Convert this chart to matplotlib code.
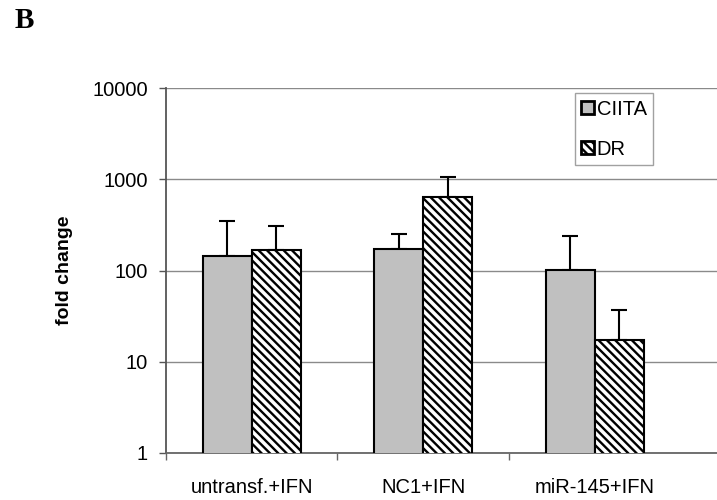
import numpy as np
import matplotlib
matplotlib.use("Agg")
import matplotlib.pyplot as plt

# data
groups = ["untransf.+IFN", "NC1+IFN", "miR-145+IFN"]
ciita = [144, 172, 101]
ciita_err = [207, 79, 140]
dr = [168, 634, 17.3]
dr_err = [139, 416, 19.6]
yticks = [1, 10, 100, 1000, 10000]

plt.rcParams['font.family'] = ['Liberation Sans', 'DejaVu Sans']
plt.rcParams['hatch.linewidth'] = 1.7
plt.rcParams['hatch.color'] = 'black'

fig = plt.figure(figsize=(7.17, 5.0), dpi=100)
ax = fig.add_axes([0.2315, 0.094, 0.7685, 0.73])

x = np.arange(len(groups))
w = 0.285

ax.bar(x - w / 2, ciita, w, color='#c0c0c0', edgecolor='black', linewidth=1.5,
       label='CIITA', zorder=3)
ax.bar(x + w / 2, dr, w, color='white', edgecolor='black', linewidth=1.5,
       hatch='\\\\\\\\', label='DR', zorder=3)

# upper error bars only
ax.errorbar(x - w / 2, ciita, yerr=[np.zeros(3), ciita_err], fmt='none',
            ecolor='black', elinewidth=1.5, capsize=6, capthick=1.5, zorder=2)
ax.errorbar(x + w / 2, dr, yerr=[np.zeros(3), dr_err], fmt='none',
            ecolor='black', elinewidth=1.5, capsize=6, capthick=1.5, zorder=2)

ax.set_yscale('log')
ax.set_ylim(1, 10000)
ax.set_yticks(yticks)
ax.set_yticklabels([str(t) for t in yticks], fontsize=14.5)
ax.yaxis.set_minor_locator(matplotlib.ticker.NullLocator())
ax.yaxis.grid(True, color='#8a8a8a', linewidth=1.0, zorder=0)
ax.tick_params(axis='y', length=5, width=1, color='#555555', pad=8)

ax.set_xlim(-0.5, 2.713)
ax.set_xticks(x)
ax.set_xticklabels(groups, fontsize=14.5)
ax.set_xticks([-0.5, 0.5, 1.5], minor=True)
ax.tick_params(axis='x', which='major', length=0, pad=18)
ax.tick_params(axis='x', which='minor', length=5, width=1, color='#666666')

for s in ['top', 'right']:
    ax.spines[s].set_visible(False)
ax.spines['left'].set_color('#555555')
ax.spines['left'].set_linewidth(1.3)
ax.spines['bottom'].set_color('#666666')
ax.spines['bottom'].set_linewidth(1.3)

ax.set_ylabel('fold change', fontsize=14, fontweight='bold')
ax.yaxis.set_label_coords(-0.168, 0.5)

leg = ax.legend(loc='upper left', bbox_to_anchor=(0.743, 0.985), fontsize=14.5,
                frameon=True, fancybox=False, handlelength=0.6, handleheight=0.6,
                handletextpad=0.15, labelspacing=1.05, borderpad=0.3,
                borderaxespad=0)
leg.get_frame().set_edgecolor('#8a8a8a')
leg.get_frame().set_linewidth(1.0)
for h in leg.legend_handles:
    h.set_linewidth(2.0)

fig.text(0.021, 0.945, 'B', fontsize=21, fontweight='bold',
         family=['Liberation Serif', 'DejaVu Serif'])

fig.savefig('out.png', dpi=100)
